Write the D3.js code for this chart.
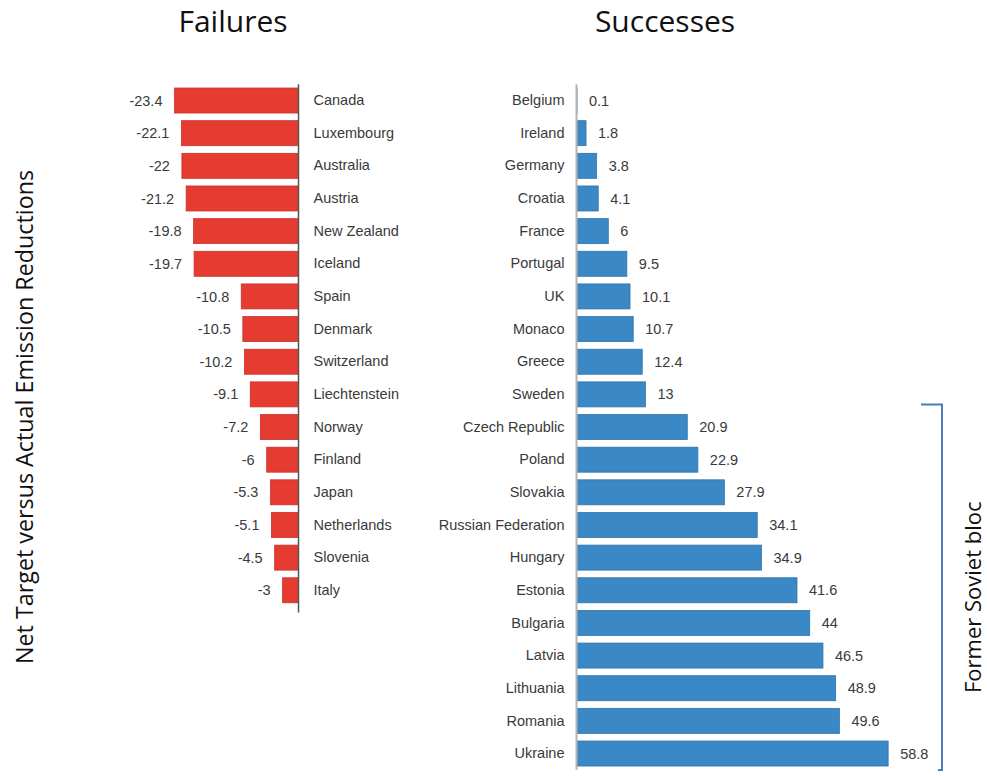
<!DOCTYPE html>
<html>
<head>
<meta charset="utf-8">
<script src="https://cdn.jsdelivr.net/npm/d3@7"></script>
<style>
  html, body { margin: 0; padding: 0; background: #fff; }
  svg { display: block; }
</style>
</head>
<body>
<svg id="chart" width="987" height="776"></svg>
<script>
// Countries that missed their target (net shortfall, negative)
const failureCountries = ["Canada", "Luxembourg", "Australia", "Austria", "New Zealand", "Iceland",
  "Spain", "Denmark", "Switzerland", "Liechtenstein", "Norway", "Finland", "Japan",
  "Netherlands", "Slovenia", "Italy"];
const failureValues = [-23.4, -22.1, -22, -21.2, -19.8, -19.7, -10.8, -10.5, -10.2, -9.1,
  -7.2, -6, -5.3, -5.1, -4.5, -3];

// Countries that beat their target
const successCountries = ["Belgium", "Ireland", "Germany", "Croatia", "France", "Portugal", "UK",
  "Monaco", "Greece", "Sweden", "Czech Republic", "Poland", "Slovakia", "Russian Federation",
  "Hungary", "Estonia", "Bulgaria", "Latvia", "Lithuania", "Romania", "Ukraine"];
const successValues = [0.1, 1.8, 3.8, 4.1, 6, 9.5, 10.1, 10.7, 12.4, 13, 20.9, 22.9, 27.9, 34.1,
  34.9, 41.6, 44, 46.5, 48.9, 49.6, 58.8];

// Countries grouped under the bracket
const sovietBloc = ["Czech Republic", "Ukraine"];

const titles = ["Failures", "Successes"];
const yTitle = "Net Target versus Actual Emission Reductions";
const bracketLabel = "Former Soviet bloc";

const svg = d3.select("#chart");
const labelFont = "'Liberation Sans', Arial, Helvetica, sans-serif";
const titleFont = "'Open Sans', 'Noto Sans', sans-serif";
const textColor = "#3a3a3a";

const rowStep = 32.65;
const topY = 84.2;
const pxPerUnit = 5.3;
const leftZero = 298.5;
const rightZero = 576.5;

// ---------- Failures panel ----------
const yL = d3.scaleBand()
  .domain(failureCountries)
  .range([topY, topY + failureCountries.length * rowStep])
  .paddingInner(0.234).paddingOuter(0.117);
const xL = d3.scaleLinear()
  .domain([-25, 0])
  .range([leftZero - 25 * pxPerUnit, leftZero]);

const failData = failureCountries.map((c, i) => ({ c, v: failureValues[i] }));
const gL = svg.append("g");

gL.selectAll("rect").data(failData).join("rect")
  .attr("x", d => xL(d.v))
  .attr("y", d => yL(d.c))
  .attr("width", d => xL(0) - xL(d.v))
  .attr("height", yL.bandwidth())
  .attr("fill", "#e53b30")
  .attr("stroke", "#c8342b")
  .attr("stroke-width", 0.8);

gL.selectAll("text.val").data(failData).join("text")
  .attr("class", "val")
  .attr("x", d => xL(d.v) - 12)
  .attr("y", d => yL(d.c) + yL.bandwidth() / 2)
  .attr("dy", "0.35em")
  .attr("text-anchor", "end")
  .attr("font-family", labelFont).attr("font-size", 14.5)
  .attr("fill", textColor)
  .text(d => d.v);

// category axis on the zero line, labels to the right
const axL = gL.append("g")
  .attr("transform", `translate(${leftZero},0)`)
  .call(d3.axisRight(yL).tickSize(0).tickPadding(15));
axL.select(".domain").attr("stroke", "#555").attr("stroke-width", 1.5)
  .attr("d", `M0,${topY}V${topY + failureCountries.length * rowStep + 6}`);
axL.selectAll("text").attr("font-family", labelFont).attr("font-size", 14.5).attr("fill", textColor);

// ---------- Successes panel ----------
const yR = d3.scaleBand()
  .domain(successCountries)
  .range([topY, topY + successCountries.length * rowStep])
  .paddingInner(0.234).paddingOuter(0.117);
const xR = d3.scaleLinear()
  .domain([0, 60])
  .range([rightZero, rightZero + 60 * pxPerUnit]);

const succData = successCountries.map((c, i) => ({ c, v: successValues[i] }));
const gR = svg.append("g");

gR.selectAll("rect").data(succData).join("rect")
  .attr("x", xR(0))
  .attr("y", d => yR(d.c))
  .attr("width", d => xR(d.v) - xR(0))
  .attr("height", yR.bandwidth())
  .attr("fill", "#3a88c5")
  .attr("stroke", "#2f74ab")
  .attr("stroke-width", 0.8);

gR.selectAll("text.val").data(succData).join("text")
  .attr("class", "val")
  .attr("x", d => xR(d.v) + 12)
  .attr("y", d => yR(d.c) + yR.bandwidth() / 2)
  .attr("dy", "0.35em")
  .attr("text-anchor", "start")
  .attr("font-family", labelFont).attr("font-size", 14.5)
  .attr("fill", textColor)
  .text(d => d.v);

const axR = gR.append("g")
  .attr("transform", `translate(${rightZero},0)`)
  .call(d3.axisLeft(yR).tickSize(0).tickPadding(12));
axR.select(".domain").attr("stroke", "#b4b4b4").attr("stroke-width", 2)
  .attr("d", `M0,${topY}V${topY + successCountries.length * rowStep}`);
axR.selectAll("text").attr("font-family", labelFont).attr("font-size", 14.5).attr("fill", textColor);

// ---------- Titles ----------
svg.append("text").attr("x", 233).attr("y", 32)
  .attr("text-anchor", "middle").attr("font-family", titleFont).attr("font-size", 30)
  .attr("fill", "#111").text(titles[0]);
svg.append("text").attr("x", 665).attr("y", 32)
  .attr("text-anchor", "middle").attr("font-family", titleFont).attr("font-size", 30)
  .attr("fill", "#111").text(titles[1]);

svg.append("text")
  .attr("transform", "translate(33,417) rotate(-90)")
  .attr("text-anchor", "middle").attr("font-family", titleFont).attr("font-size", 23.3)
  .attr("fill", "#111").text(yTitle);

// ---------- Bracket for the former Soviet bloc ----------
const bTop = yR(sovietBloc[0]) - 10;
const bBot = yR(sovietBloc[1]) + yR.bandwidth() + 4;
svg.append("path")
  .attr("d", `M921,${bTop}H942V${bBot}H938`)
  .attr("fill", "none").attr("stroke", "#4a7ebb").attr("stroke-width", 2);

svg.append("text")
  .attr("transform", `translate(981,${(bTop + bBot) / 2 + 10}) rotate(-90)`)
  .attr("text-anchor", "middle").attr("font-family", titleFont).attr("font-size", 22)
  .attr("fill", "#111").text(bracketLabel);
</script>
</body>
</html>
